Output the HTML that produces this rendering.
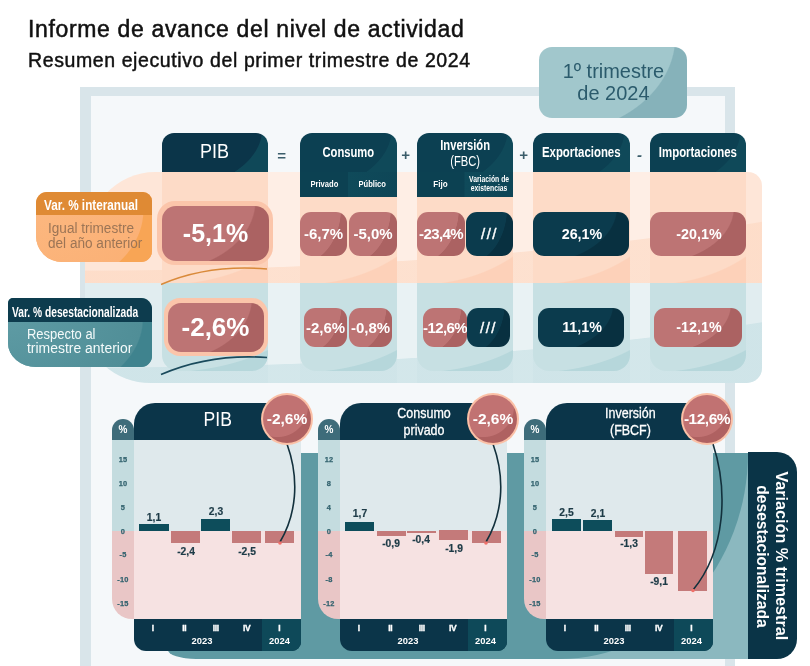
<!DOCTYPE html>
<html><head><meta charset="utf-8">
<style>
*{box-sizing:border-box;margin:0;padding:0}
html,body{width:810px;height:666px;overflow:hidden;background:#fff}
body{position:relative;font-family:"Liberation Sans",sans-serif;}
.a{position:absolute}
.t{position:absolute;white-space:nowrap;line-height:1}
.c{display:inline-block;transform-origin:0 50%}
.hd{position:absolute;background:radial-gradient(ellipse 95% 160% at 0% -10%,#0c4052 0,#0c4052 99%,#0f4959 100%);border-radius:12px 12px 0 0;overflow:hidden}

.hd2{position:absolute;background:linear-gradient(90deg,#0c4152 0,#0c4152 49%,#0f4a5a 50%,#0e4657 100%);overflow:hidden}
.ht{position:absolute;color:#fff;white-space:nowrap;text-align:center;line-height:1;z-index:2}
.colp{position:absolute;height:110.5px!important;background:radial-gradient(ellipse 152% 102% at 0 0,#fddbc7 0,#fddbc7 99%,#fdd1b9 100%);top:172px;height:111px}
.colb{position:absolute;background:radial-gradient(ellipse 152% 102% at 0 0,#c7e0e3 0,#c7e0e3 99%,#b6d7db 100%);top:282.5px;height:88.5px;border-radius:0 0 16px 16px}
.bx{position:absolute;border-radius:11px;color:#fff;font-weight:bold;text-align:center;overflow:hidden;white-space:nowrap}
.bx span{position:relative;z-index:2}
.rose{background:radial-gradient(ellipse 88% 128% at 0% -10%,#bd7474 0,#bd7474 98.5%,#ab6262 100%)}

.navy{background:radial-gradient(ellipse 88% 128% at 0% -10%,#0b3b4d 0,#0b3b4d 98.5%,#083040 100%)}

.sign{position:absolute;color:#3b5d6a;font-size:15px;line-height:1;font-weight:bold;font-style:italic}
#wrap{position:absolute;left:0;top:0;width:810px;height:666px;will-change:transform}
</style></head><body><div id="wrap">

<!-- titles -->
<div class="t" style="left:28px;top:18px;font-size:23px;letter-spacing:.65px;color:#111;-webkit-text-stroke:.5px #111">Informe de avance del nivel de actividad</div>
<div class="t" style="left:28px;top:51px;font-size:19.5px;letter-spacing:.6px;color:#111;-webkit-text-stroke:.45px #111">Resumen ejecutivo del primer trimestre de 2024</div>

<!-- frame -->
<div class="a" style="left:80px;top:87px;width:655px;height:600px;background:#f5f8fa;border:10px solid #d9e5ea;border-top-width:9px;border-left-width:11px"></div>

<!-- badge -->
<div class="a" style="left:539px;top:47px;width:148px;height:71px;border-radius:13px;background:radial-gradient(ellipse 82.5% 137% at 10% -15%,#a1c7cc 0,#a1c7cc 99%,#86b2ba 100%)"></div>
<div class="t" style="left:539px;top:59.5px;width:148px;text-align:center;font-size:21px;color:#2b5b6c;line-height:22.5px"><span class="c" style="transform-origin:50% 50%;transform:scaleX(.95)">1º trimestre<br>de 2024</span></div>

<!-- bands -->
<div class="a" style="left:85px;top:172px;width:677px;height:110.5px;background:#fee6d8;border-radius:70px 14px 0 0 / 75px 14px 0 0"></div>
<div class="a" style="left:85px;top:282.5px;width:677px;height:100px;background:#e1edf0;border-radius:0 0 15px 66px / 0 0 15px 60px"></div>

<!-- gaps -->
<div class="a" style="left:268px;top:172px;width:32px;height:110.5px;background:rgba(255,255,255,.33)"></div><div class="a" style="left:268px;top:282.5px;width:32px;height:100px;background:rgba(255,255,255,.28)"></div><div class="a" style="left:397px;top:172px;width:20px;height:110.5px;background:rgba(255,255,255,.33)"></div><div class="a" style="left:397px;top:282.5px;width:20px;height:100px;background:rgba(255,255,255,.28)"></div><div class="a" style="left:513px;top:172px;width:20px;height:110.5px;background:rgba(255,255,255,.33)"></div><div class="a" style="left:513px;top:282.5px;width:20px;height:100px;background:rgba(255,255,255,.28)"></div><div class="a" style="left:630px;top:172px;width:20px;height:110.5px;background:rgba(255,255,255,.33)"></div><div class="a" style="left:630px;top:282.5px;width:20px;height:100px;background:rgba(255,255,255,.28)"></div>
<div class="a" style="left:85px;top:172px;width:677px;height:110.5px;border-radius:70px 14px 0 0 / 75px 14px 0 0;background:radial-gradient(ellipse 1033px 199px at 0px -100px,rgba(253,214,190,0) 0,rgba(253,214,190,0) 99.6%,rgba(253,214,190,.55) 100%)"></div><div class="a" style="left:85px;top:282.5px;width:677px;height:100px;border-radius:0 0 15px 66px / 0 0 15px 60px;background:radial-gradient(ellipse 1033px 185px at 0px -100px,rgba(190,220,225,0) 0,rgba(190,220,225,0) 99.6%,rgba(190,220,225,.5) 100%)"></div>
<!-- columns -->
<div class="colp" style="left:162px;width:106px"></div><div class="colb" style="left:162px;width:106px"></div>
<div class="colp" style="left:300px;width:97px"></div><div class="colb" style="left:300px;width:97px"></div>
<div class="colp" style="left:417px;width:96px"></div><div class="colb" style="left:417px;width:96px"></div>
<div class="colp" style="left:533px;width:97px"></div><div class="colb" style="left:533px;width:97px"></div>
<div class="colp" style="left:650px;width:96px"></div><div class="colb" style="left:650px;width:96px"></div>

<!-- headers -->
<div class="hd" style="left:162px;top:132.5px;width:106px;height:39.5px;background:radial-gradient(ellipse 95% 160% at 0% -10%,#0b3549 0,#0b3549 99%,#0f4858 100%)"></div>
<div class="ht" style="left:162px;top:141px;width:106px;font-size:20.5px"><span class="c" style="transform-origin:50% 50%;transform:scaleX(.88)">PIB</span></div>

<div class="hd" style="left:300px;top:132.5px;width:97px;height:39.5px"></div>
<div class="hd2" style="left:300px;top:172px;width:97px;height:25px"></div>
<div class="ht" style="left:300px;top:145px;width:97px;font-size:14px;font-weight:bold"><span class="c" style="transform-origin:50% 50%;transform:scaleX(.8)">Consumo</span></div>
<div class="ht" style="left:300px;top:179px;width:48px;font-size:9.5px;font-weight:bold"><span class="c" style="transform-origin:50% 50%;transform:scaleX(.8)">Privado</span></div>
<div class="ht" style="left:348px;top:179px;width:49px;font-size:9.5px;font-weight:bold"><span class="c" style="transform-origin:50% 50%;transform:scaleX(.8)">Público</span></div>

<div class="hd" style="left:417px;top:132.5px;width:96px;height:39.5px"></div>
<div class="hd2" style="left:417px;top:172px;width:96px;height:25px"></div>
<div class="ht" style="left:417px;top:137px;width:96px;font-size:14px;font-weight:bold;line-height:16px"><span class="c" style="transform-origin:50% 50%;transform:scaleX(.8)">Inversión<br><span style="font-weight:normal">(FBC)</span></span></div>
<div class="ht" style="left:417px;top:179px;width:47px;font-size:9.5px;font-weight:bold"><span class="c" style="transform-origin:50% 50%;transform:scaleX(.85)">Fijo</span></div>
<div class="ht" style="left:464px;top:175px;width:49px;font-size:8.5px;font-weight:bold;line-height:9px"><span class="c" style="transform-origin:50% 50%;transform:scaleX(.8)">Variación de<br>existencias</span></div>

<div class="hd" style="left:533px;top:132.5px;width:97px;height:39.5px"></div>
<div class="ht" style="left:533px;top:145px;width:97px;font-size:14px;font-weight:bold"><span class="c" style="transform-origin:50% 50%;transform:scaleX(.815)">Exportaciones</span></div>

<div class="hd" style="left:650px;top:132.5px;width:96px;height:39.5px"></div>
<div class="ht" style="left:650px;top:145px;width:96px;font-size:14px;font-weight:bold"><span class="c" style="transform-origin:50% 50%;transform:scaleX(.815)">Importaciones</span></div>

<!-- signs -->
<div class="sign" style="left:277px;top:148px">=</div>
<div class="sign" style="left:401px;top:147px">+</div>
<div class="sign" style="left:519px;top:147px">+</div>
<div class="sign" style="left:637px;top:147px">-</div>

<!-- big boxes -->
<div class="a" style="left:157px;top:200.5px;width:116px;height:64.5px;border-radius:18px;background:#fbc5aa"></div>
<div class="bx rose" style="left:162px;top:205.5px;width:107px;height:55.5px;border-radius:14px;font-size:25px;line-height:55.5px"><span>-5,1%</span></div>
<div class="a" style="left:163.5px;top:298px;width:104px;height:57.5px;border-radius:16px;background:#fbc5aa"></div>
<div class="bx rose" style="left:167.5px;top:302.5px;width:96px;height:49px;border-radius:13px;font-size:26px;line-height:49px"><span>-2,6%</span></div>

<!-- row 1 -->
<div class="bx rose" style="left:300px;top:212px;width:47px;height:44px;font-size:15px;line-height:44px"><span>-6,7%</span></div>
<div class="bx rose" style="left:349px;top:212px;width:48px;height:44px;font-size:15px;line-height:44px"><span>-5,0%</span></div>
<div class="bx rose" style="left:417px;top:212px;width:48px;height:44px;font-size:15px;line-height:44px;letter-spacing:-.6px"><span>-23,4%</span></div>
<div class="bx navy" style="left:466px;top:212px;width:47px;height:44px;font-size:15px;line-height:44px;letter-spacing:1.5px;font-weight:normal;-webkit-text-stroke:.4px #fff"><span>///</span></div>
<div class="bx navy" style="left:533px;top:212px;width:96px;height:44px;font-size:14.3px;line-height:44px"><span style="left:1px">26,1%</span></div>
<div class="bx rose" style="left:650px;top:212px;width:96px;height:44px;font-size:14.3px;line-height:44px"><span style="left:1px">-20,1%</span></div>
<!-- row 2 -->
<div class="bx rose" style="left:304px;top:308px;width:43px;height:39px;font-size:15px;line-height:39px;letter-spacing:0"><span>-2,6%</span></div>
<div class="bx rose" style="left:349px;top:308px;width:43px;height:39px;font-size:15px;line-height:39px;letter-spacing:0"><span>-0,8%</span></div>
<div class="bx rose" style="left:423px;top:308px;width:44px;height:39px;font-size:15px;line-height:39px;letter-spacing:-.6px"><span>-12,6%</span></div>
<div class="bx navy" style="left:467px;top:308px;width:43px;height:39px;font-size:15px;line-height:39px;letter-spacing:1.5px;font-weight:normal;-webkit-text-stroke:.4px #fff"><span>///</span></div>
<div class="bx navy" style="left:538px;top:308px;width:86px;height:39px;font-size:14.3px;line-height:39px"><span style="left:1px">11,1%</span></div>
<div class="bx rose" style="left:654px;top:308px;width:88px;height:39px;font-size:14.3px;line-height:39px"><span style="left:1px">-12,1%</span></div>

<!-- arcs -->
<svg class="a" style="left:0;top:0" width="810" height="666" viewBox="0 0 810 666">
  <path d="M161 284.5 C190 272 225 265.5 267 269" fill="none" stroke="#d98a3a" stroke-width="1.4"/>
  <path d="M161 374.5 C190 362 225 354.5 267 357.5" fill="none" stroke="#1a4a5c" stroke-width="1.6"/>
</svg>

<!-- orange label -->
<div class="a" style="left:36px;top:192px;width:116px;height:70px;border-radius:11px 9px 11px 26px;background:#fab16f;overflow:hidden">
  <div class="a" style="left:0;top:0;width:116px;height:23px;background:#df8a34"></div>
  <div class="a" style="left:0;top:23px;width:116px;height:47px;background:radial-gradient(ellipse 93% 175% at 0% -10%,#fcb77f 0,#fbb176 99%,#f8a555 100%)"></div>
</div>
<div class="t" style="left:43.5px;top:198px;font-size:14.5px;color:#fff;font-weight:bold"><span class="c" style="transform:scaleX(.81)">Var. % interanual</span></div>
<div class="t" style="left:47.5px;top:221px;font-size:14px;color:#9c7556;line-height:15px"><span class="c" style="transform:scaleX(.97)">Igual trimestre<br>del año anterior</span></div>

<!-- teal label -->
<div class="a" style="left:8px;top:298px;width:144px;height:69px;border-radius:5px 11px 11px 28px / 5px 11px 11px 24px;background:#5a969f;overflow:hidden">
  <div class="a" style="left:0;top:0;width:144px;height:24px;background:#0d3c4e"></div>
  <div class="a" style="left:0;top:24px;width:144px;height:46px;background:radial-gradient(ellipse 94% 188% at 0% -5%,#5e9ba4 0,#508e97 99%,#3f838e 100%)"></div>
</div>
<div class="t" style="left:12px;top:305px;font-size:14px;color:#fff;font-weight:bold"><span class="c" style="transform:scaleX(.73)">Var. % desestacionalizada</span></div>
<div class="t" style="left:26.5px;top:328px;font-size:13.8px;color:#f4fafa;line-height:13.5px"><span class="c" style="transform:scaleX(.94)">Respecto al</span><br><span class="c" style="transform:scaleX(1.01)">trimestre anterior</span></div>

<!-- CHARTS placeholder -->
<div class="a" style="left:168px;top:452.5px;width:580px;height:206.5px;background:#5f9aa3;border-radius:0 0 0 28px / 0 0 0 9px"></div>
<div class="a" style="left:560px;top:452.5px;width:188px;height:206.5px;background:#8bb8bf;overflow:hidden"><div class="a" style="left:-188px;top:-205.5px;width:376px;height:412px;border-radius:50%;background:#5f9aa3"></div></div>
<div class="a" style="left:747.5px;top:452px;width:49.5px;height:207px;background:#0a3447;border-radius:0 20px 20px 0"></div>
<div class="t" style="left:771.7px;top:556px;width:0;height:0"><div style="position:absolute;left:-100px;top:-19px;width:200px;text-align:center;transform:rotate(90deg);font-size:17px;font-weight:bold;color:#fff;line-height:19px"><span class="c" style="transform-origin:50% 50%;transform:scaleX(.95)">Variación % trimestral</span><br><span class="c" style="transform-origin:50% 50%;transform:scaleX(.92)">desestacionalizada</span></div></div>
<div class="a" style="left:112px;top:419px;width:22px;height:21px;border-radius:11px 11px 0 0;background:#3e6c7a"></div>
<div class="t" style="left:112px;top:425px;width:22px;text-align:center;font-size:10px;font-weight:bold;color:#fff">%</div>
<div class="a" style="left:112px;top:440px;width:22px;height:91px;background:#c4dcdf"></div>
<div class="a" style="left:112px;top:531px;width:22px;height:88px;background:#e9c6c6;border-radius:0 0 0 20px"></div>
<div class="a" style="left:134px;top:440px;width:167px;height:91px;background:#dfe9ec"></div>
<div class="a" style="left:134px;top:531px;width:167px;height:88px;background:#f6e2e2"></div>
<div class="a" style="left:134px;top:402.7px;width:167px;height:37.3px;background:#0b3549;border-radius:21px 0 0 0"></div>
<div class="ht" style="left:134px;top:410px;width:168px;font-size:19.5px"><span class="c" style="transform-origin:50% 50%;transform:scaleX(.9)">PIB</span></div>
<div class="a" style="left:134px;top:619px;width:167px;height:32px;background:#0b3549;border-radius:0 0 9px 12px;overflow:hidden"><div class="a" style="left:128px;top:0;width:40px;height:32px;background:#0e4959"></div></div>
<div class="t" style="left:142.7px;top:624px;width:20px;text-align:center;font-size:8.5px;font-weight:bold;color:#fff;letter-spacing:-.4px;-webkit-text-stroke:.3px #fff">I</div>
<div class="t" style="left:174.3px;top:624px;width:20px;text-align:center;font-size:8.5px;font-weight:bold;color:#fff;letter-spacing:-.4px;-webkit-text-stroke:.3px #fff">II</div>
<div class="t" style="left:205.7px;top:624px;width:20px;text-align:center;font-size:8.5px;font-weight:bold;color:#fff;letter-spacing:-.4px;-webkit-text-stroke:.3px #fff">III</div>
<div class="t" style="left:236.7px;top:624px;width:20px;text-align:center;font-size:8.5px;font-weight:bold;color:#fff;letter-spacing:-.4px;-webkit-text-stroke:.3px #fff">IV</div>
<div class="t" style="left:269.3px;top:624px;width:20px;text-align:center;font-size:8.5px;font-weight:bold;color:#fff;letter-spacing:-.4px;-webkit-text-stroke:.3px #fff">I</div>
<div class="t" style="left:182px;top:636px;width:40px;text-align:center;font-size:9.4px;font-weight:bold;color:#fff">2023</div>
<div class="t" style="left:259.5px;top:636px;width:40px;text-align:center;font-size:9.4px;font-weight:bold;color:#fff">2024</div>
<div class="t" style="left:112px;top:456px;width:22px;text-align:center;font-size:7.4px;font-weight:bold;color:#33636f;letter-spacing:.2px;-webkit-text-stroke:.25px #33636f">15</div>
<div class="t" style="left:112px;top:480px;width:22px;text-align:center;font-size:7.4px;font-weight:bold;color:#33636f;letter-spacing:.2px;-webkit-text-stroke:.25px #33636f">10</div>
<div class="t" style="left:112px;top:504px;width:22px;text-align:center;font-size:7.4px;font-weight:bold;color:#33636f;letter-spacing:.2px;-webkit-text-stroke:.25px #33636f">5</div>
<div class="t" style="left:112px;top:528px;width:22px;text-align:center;font-size:7.4px;font-weight:bold;color:#33636f;letter-spacing:.2px;-webkit-text-stroke:.25px #33636f">0</div>
<div class="t" style="left:112px;top:551px;width:22px;text-align:center;font-size:7.4px;font-weight:bold;color:#33636f;letter-spacing:.2px;-webkit-text-stroke:.25px #33636f">-5</div>
<div class="t" style="left:112px;top:576px;width:22px;text-align:center;font-size:7.4px;font-weight:bold;color:#33636f;letter-spacing:.2px;-webkit-text-stroke:.25px #33636f">-10</div>
<div class="t" style="left:112px;top:600px;width:22px;text-align:center;font-size:7.4px;font-weight:bold;color:#33636f;letter-spacing:.2px;-webkit-text-stroke:.25px #33636f">-15</div>
<div class="a" style="left:139px;top:524px;width:30px;height:7px;background:#0d4d5b"></div>
<div class="t" style="left:134px;top:513px;width:40px;text-align:center;font-size:10.3px;font-weight:bold;color:#1d3b47;-webkit-text-stroke:.2px #1d3b47">1,1</div>
<div class="a" style="left:171px;top:531px;width:29px;height:12px;background:#c47a7a"></div>
<div class="t" style="left:166px;top:547px;width:40px;text-align:center;font-size:10.3px;font-weight:bold;color:#1d3b47;-webkit-text-stroke:.2px #1d3b47">-2,4</div>
<div class="a" style="left:201px;top:519px;width:29px;height:12px;background:#0d4d5b"></div>
<div class="t" style="left:196px;top:507px;width:40px;text-align:center;font-size:10.3px;font-weight:bold;color:#1d3b47;-webkit-text-stroke:.2px #1d3b47">2,3</div>
<div class="a" style="left:232px;top:531px;width:29px;height:12px;background:#c47a7a"></div>
<div class="t" style="left:227px;top:547px;width:40px;text-align:center;font-size:10.3px;font-weight:bold;color:#1d3b47;-webkit-text-stroke:.2px #1d3b47">-2,5</div>
<div class="a" style="left:265px;top:531px;width:29px;height:12px;background:#c47a7a"></div>
<div class="a" style="left:318px;top:419px;width:22px;height:21px;border-radius:11px 11px 0 0;background:#3e6c7a"></div>
<div class="t" style="left:318px;top:425px;width:22px;text-align:center;font-size:10px;font-weight:bold;color:#fff">%</div>
<div class="a" style="left:318px;top:440px;width:22px;height:91px;background:#c4dcdf"></div>
<div class="a" style="left:318px;top:531px;width:22px;height:88px;background:#e9c6c6;border-radius:0 0 0 20px"></div>
<div class="a" style="left:340px;top:440px;width:167px;height:91px;background:#dfe9ec"></div>
<div class="a" style="left:340px;top:531px;width:167px;height:88px;background:#f6e2e2"></div>
<div class="a" style="left:340px;top:402.7px;width:167px;height:37.3px;background:#0b3549;border-radius:21px 0 0 0"></div>
<div class="ht" style="left:340px;top:405px;width:168px;font-size:14.5px;line-height:17px;-webkit-text-stroke:.3px #fff"><span class="c" style="transform-origin:50% 50%;transform:scaleX(.86)">Consumo<br>privado</span></div>
<div class="a" style="left:340px;top:619px;width:167px;height:32px;background:#0b3549;border-radius:0 0 9px 12px;overflow:hidden"><div class="a" style="left:128px;top:0;width:40px;height:32px;background:#0e4959"></div></div>
<div class="t" style="left:348.7px;top:624px;width:20px;text-align:center;font-size:8.5px;font-weight:bold;color:#fff;letter-spacing:-.4px;-webkit-text-stroke:.3px #fff">I</div>
<div class="t" style="left:380.3px;top:624px;width:20px;text-align:center;font-size:8.5px;font-weight:bold;color:#fff;letter-spacing:-.4px;-webkit-text-stroke:.3px #fff">II</div>
<div class="t" style="left:411.7px;top:624px;width:20px;text-align:center;font-size:8.5px;font-weight:bold;color:#fff;letter-spacing:-.4px;-webkit-text-stroke:.3px #fff">III</div>
<div class="t" style="left:442.7px;top:624px;width:20px;text-align:center;font-size:8.5px;font-weight:bold;color:#fff;letter-spacing:-.4px;-webkit-text-stroke:.3px #fff">IV</div>
<div class="t" style="left:475.3px;top:624px;width:20px;text-align:center;font-size:8.5px;font-weight:bold;color:#fff;letter-spacing:-.4px;-webkit-text-stroke:.3px #fff">I</div>
<div class="t" style="left:388px;top:636px;width:40px;text-align:center;font-size:9.4px;font-weight:bold;color:#fff">2023</div>
<div class="t" style="left:465.5px;top:636px;width:40px;text-align:center;font-size:9.4px;font-weight:bold;color:#fff">2024</div>
<div class="t" style="left:318px;top:456px;width:22px;text-align:center;font-size:7.4px;font-weight:bold;color:#33636f;letter-spacing:.2px;-webkit-text-stroke:.25px #33636f">12</div>
<div class="t" style="left:318px;top:480px;width:22px;text-align:center;font-size:7.4px;font-weight:bold;color:#33636f;letter-spacing:.2px;-webkit-text-stroke:.25px #33636f">8</div>
<div class="t" style="left:318px;top:504px;width:22px;text-align:center;font-size:7.4px;font-weight:bold;color:#33636f;letter-spacing:.2px;-webkit-text-stroke:.25px #33636f">4</div>
<div class="t" style="left:318px;top:528px;width:22px;text-align:center;font-size:7.4px;font-weight:bold;color:#33636f;letter-spacing:.2px;-webkit-text-stroke:.25px #33636f">0</div>
<div class="t" style="left:318px;top:551px;width:22px;text-align:center;font-size:7.4px;font-weight:bold;color:#33636f;letter-spacing:.2px;-webkit-text-stroke:.25px #33636f">-4</div>
<div class="t" style="left:318px;top:576px;width:22px;text-align:center;font-size:7.4px;font-weight:bold;color:#33636f;letter-spacing:.2px;-webkit-text-stroke:.25px #33636f">-8</div>
<div class="t" style="left:318px;top:600px;width:22px;text-align:center;font-size:7.4px;font-weight:bold;color:#33636f;letter-spacing:.2px;-webkit-text-stroke:.25px #33636f">-12</div>
<div class="a" style="left:345px;top:522px;width:29px;height:9px;background:#0d4d5b"></div>
<div class="t" style="left:340px;top:509px;width:40px;text-align:center;font-size:10.3px;font-weight:bold;color:#1d3b47;-webkit-text-stroke:.2px #1d3b47">1,7</div>
<div class="a" style="left:377px;top:531px;width:29px;height:5px;background:#c47a7a"></div>
<div class="t" style="left:371px;top:539px;width:40px;text-align:center;font-size:10.3px;font-weight:bold;color:#1d3b47;-webkit-text-stroke:.2px #1d3b47">-0,9</div>
<div class="a" style="left:407px;top:531px;width:29px;height:2px;background:#c47a7a"></div>
<div class="t" style="left:401px;top:535px;width:40px;text-align:center;font-size:10.3px;font-weight:bold;color:#1d3b47;-webkit-text-stroke:.2px #1d3b47">-0,4</div>
<div class="a" style="left:439px;top:530px;width:29px;height:10px;background:#c47a7a"></div>
<div class="t" style="left:434px;top:544px;width:40px;text-align:center;font-size:10.3px;font-weight:bold;color:#1d3b47;-webkit-text-stroke:.2px #1d3b47">-1,9</div>
<div class="a" style="left:472px;top:531px;width:29px;height:12px;background:#c47a7a"></div>
<div class="a" style="left:524px;top:419px;width:22px;height:21px;border-radius:11px 11px 0 0;background:#3e6c7a"></div>
<div class="t" style="left:524px;top:425px;width:22px;text-align:center;font-size:10px;font-weight:bold;color:#fff">%</div>
<div class="a" style="left:524px;top:440px;width:22px;height:91px;background:#c4dcdf"></div>
<div class="a" style="left:524px;top:531px;width:22px;height:88px;background:#e9c6c6;border-radius:0 0 0 20px"></div>
<div class="a" style="left:546px;top:440px;width:167px;height:91px;background:#dfe9ec"></div>
<div class="a" style="left:546px;top:531px;width:167px;height:88px;background:#f6e2e2"></div>
<div class="a" style="left:546px;top:402.7px;width:167px;height:37.3px;background:#0b3549;border-radius:21px 0 0 0"></div>
<div class="ht" style="left:546px;top:405px;width:168px;font-size:14.5px;line-height:17px;-webkit-text-stroke:.3px #fff"><span class="c" style="transform-origin:50% 50%;transform:scaleX(.86)">Inversión<br>(FBCF)</span></div>
<div class="a" style="left:546px;top:619px;width:167px;height:32px;background:#0b3549;border-radius:0 0 9px 12px;overflow:hidden"><div class="a" style="left:128px;top:0;width:40px;height:32px;background:#0e4959"></div></div>
<div class="t" style="left:554.7px;top:624px;width:20px;text-align:center;font-size:8.5px;font-weight:bold;color:#fff;letter-spacing:-.4px;-webkit-text-stroke:.3px #fff">I</div>
<div class="t" style="left:586.3px;top:624px;width:20px;text-align:center;font-size:8.5px;font-weight:bold;color:#fff;letter-spacing:-.4px;-webkit-text-stroke:.3px #fff">II</div>
<div class="t" style="left:617.7px;top:624px;width:20px;text-align:center;font-size:8.5px;font-weight:bold;color:#fff;letter-spacing:-.4px;-webkit-text-stroke:.3px #fff">III</div>
<div class="t" style="left:648.7px;top:624px;width:20px;text-align:center;font-size:8.5px;font-weight:bold;color:#fff;letter-spacing:-.4px;-webkit-text-stroke:.3px #fff">IV</div>
<div class="t" style="left:681.3px;top:624px;width:20px;text-align:center;font-size:8.5px;font-weight:bold;color:#fff;letter-spacing:-.4px;-webkit-text-stroke:.3px #fff">I</div>
<div class="t" style="left:594px;top:636px;width:40px;text-align:center;font-size:9.4px;font-weight:bold;color:#fff">2023</div>
<div class="t" style="left:671.5px;top:636px;width:40px;text-align:center;font-size:9.4px;font-weight:bold;color:#fff">2024</div>
<div class="t" style="left:524px;top:456px;width:22px;text-align:center;font-size:7.4px;font-weight:bold;color:#33636f;letter-spacing:.2px;-webkit-text-stroke:.25px #33636f">15</div>
<div class="t" style="left:524px;top:480px;width:22px;text-align:center;font-size:7.4px;font-weight:bold;color:#33636f;letter-spacing:.2px;-webkit-text-stroke:.25px #33636f">10</div>
<div class="t" style="left:524px;top:504px;width:22px;text-align:center;font-size:7.4px;font-weight:bold;color:#33636f;letter-spacing:.2px;-webkit-text-stroke:.25px #33636f">5</div>
<div class="t" style="left:524px;top:528px;width:22px;text-align:center;font-size:7.4px;font-weight:bold;color:#33636f;letter-spacing:.2px;-webkit-text-stroke:.25px #33636f">0</div>
<div class="t" style="left:524px;top:551px;width:22px;text-align:center;font-size:7.4px;font-weight:bold;color:#33636f;letter-spacing:.2px;-webkit-text-stroke:.25px #33636f">-5</div>
<div class="t" style="left:524px;top:576px;width:22px;text-align:center;font-size:7.4px;font-weight:bold;color:#33636f;letter-spacing:.2px;-webkit-text-stroke:.25px #33636f">-10</div>
<div class="t" style="left:524px;top:600px;width:22px;text-align:center;font-size:7.4px;font-weight:bold;color:#33636f;letter-spacing:.2px;-webkit-text-stroke:.25px #33636f">-15</div>
<div class="a" style="left:552px;top:518.7px;width:29px;height:12.299999999999955px;background:#0d4d5b"></div>
<div class="t" style="left:546.5px;top:508px;width:40px;text-align:center;font-size:10.3px;font-weight:bold;color:#1d3b47;-webkit-text-stroke:.2px #1d3b47">2,5</div>
<div class="a" style="left:583px;top:520px;width:29px;height:11px;background:#0d4d5b"></div>
<div class="t" style="left:578px;top:509px;width:40px;text-align:center;font-size:10.3px;font-weight:bold;color:#1d3b47;-webkit-text-stroke:.2px #1d3b47">2,1</div>
<div class="a" style="left:615px;top:531px;width:28px;height:5.5px;background:#c47a7a"></div>
<div class="t" style="left:609px;top:539px;width:40px;text-align:center;font-size:10.3px;font-weight:bold;color:#1d3b47;-webkit-text-stroke:.2px #1d3b47">-1,3</div>
<div class="a" style="left:645px;top:531px;width:28px;height:43px;background:#c47a7a"></div>
<div class="t" style="left:639px;top:577px;width:40px;text-align:center;font-size:10.3px;font-weight:bold;color:#1d3b47;-webkit-text-stroke:.2px #1d3b47">-9,1</div>
<div class="a" style="left:678px;top:531px;width:29px;height:60px;background:#c47a7a"></div>
<svg class="a" style="left:0;top:0" width="810" height="666" viewBox="0 0 810 666">
<path d="M287 444 C300 480 296 515 280 542" fill="none" stroke="#12303c" stroke-width="1.6"/>
<path d="M493 444 C506 480 502 515 486 542" fill="none" stroke="#12303c" stroke-width="1.6"/>
<path d="M713 444 C728 490 726 550 693 590" fill="none" stroke="#12303c" stroke-width="1.6"/>
<circle cx="280" cy="543" r="1.8" fill="#f0706a"/><circle cx="486" cy="543" r="1.8" fill="#f0706a"/><circle cx="693" cy="590.5" r="1.8" fill="#f0706a"/>
</svg>
<div class="a" style="left:261px;top:393px;width:52px;height:52px;border-radius:50%;background:#fbc0a6"></div><div class="a" style="left:263px;top:395px;width:48px;height:48px;border-radius:50%;background:radial-gradient(circle 31px at 30% 24%,#c17272 0,#c17272 97%,#af6161 100%)"></div><div class="t" style="left:257px;top:411px;width:60px;text-align:center;font-size:15.5px;font-weight:bold;color:#fff;letter-spacing:0px">-2,6%</div>
<div class="a" style="left:467px;top:393px;width:52px;height:52px;border-radius:50%;background:#fbc0a6"></div><div class="a" style="left:469px;top:395px;width:48px;height:48px;border-radius:50%;background:radial-gradient(circle 31px at 30% 24%,#c17272 0,#c17272 97%,#af6161 100%)"></div><div class="t" style="left:463px;top:411px;width:60px;text-align:center;font-size:15.5px;font-weight:bold;color:#fff;letter-spacing:0px">-2,6%</div>
<div class="a" style="left:681px;top:393px;width:52px;height:52px;border-radius:50%;background:#fbc0a6"></div><div class="a" style="left:683px;top:395px;width:48px;height:48px;border-radius:50%;background:radial-gradient(circle 31px at 30% 24%,#c17272 0,#c17272 97%,#af6161 100%)"></div><div class="t" style="left:677px;top:411px;width:60px;text-align:center;font-size:15.5px;font-weight:bold;color:#fff;letter-spacing:-0.5px">-12,6%</div>
</div></body></html>
